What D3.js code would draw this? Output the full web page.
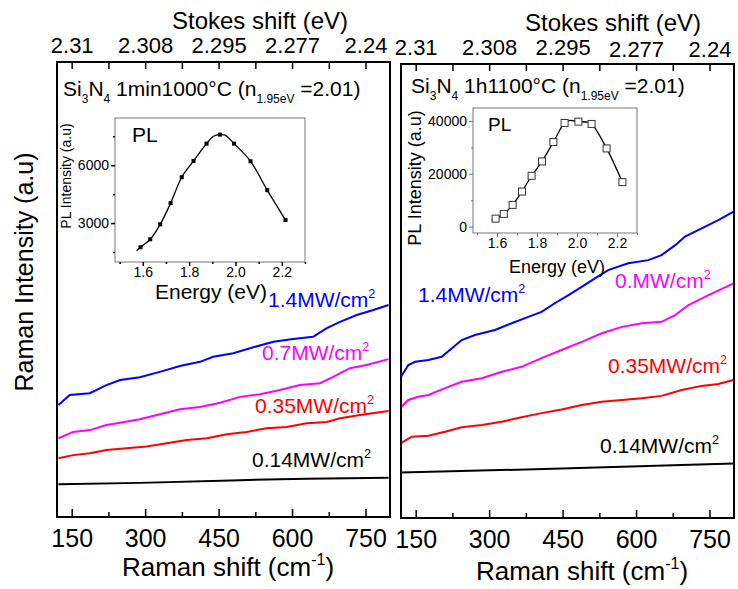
<!DOCTYPE html>
<html>
<head>
    <title>Raman / PL of Si3N4</title>
    <script src="https://cdnjs.cloudflare.com/ajax/libs/d3/7.8.5/d3.min.js" charset="utf-8"></script>
    <style>
        body { margin: 0; background: white; }
        text { font-family: "Liberation Sans", Arial, sans-serif; }
    </style>
</head>
<body>
<div id="graph"></div>
<script>
    // ---- data ----
    var ramanTicks = [150, 300, 450, 600, 750];
    var ramanMinor = [225, 375, 525, 675];
    var stokesLabels = ["2.31", "2.308", "2.295", "2.277", "2.24"];
    var powerLabelsLeft = ["1.4", "0.7", "0.35", "0.14"];
    var powerLabelsRight = ["1.4", "0.", "0.35", "0.14"];
    var seriesColors = ["#0000ff", "#ff00ff", "#ff0000", "#000000"];

    // left panel: Si3N4 1min 1000C  [Raman shift, intensity a.u.]
    var leftBlue = [[123,24.6],[146,26.8],[187,27.2],[221,29.0],[249,30.1],[289,30.7],[330,31.9],[371,33.2],[412,34.1],[439,35.2],[480,36.0],[521,37.3],[562,38.5],[602,39.1],[643,39.6],[671,41.5],[698,42.9],[732,44.4],[766,45.5],[797,46.6]];
    var leftMagenta = [[123,17.3],[153,18.7],[187,19.1],[221,20.2],[249,20.7],[289,21.5],[330,22.6],[371,23.7],[412,24.2],[453,25.1],[494,26.4],[535,27.0],[575,27.9],[616,29.0],[657,29.4],[684,30.8],[718,32.7],[752,33.4],[797,34.7]];
    var leftRed = [[123,12.9],[153,13.6],[187,14.0],[221,14.7],[262,15.1],[303,15.5],[344,16.2],[385,16.9],[426,17.3],[467,18.2],[507,18.7],[548,19.5],[589,19.8],[630,20.6],[671,20.9],[698,21.7],[739,22.4],[797,23.3]];
    var leftBlack = [[123,7.2],[289,7.5],[494,8.1],[630,8.4],[797,8.6]];

    // right panel: Si3N4 1h 1100C
    var rightBlue = [[120,31.1],[135,33.7],[149,34.4],[176,34.8],[203,35.5],[224,37.4],[244,39.2],[271,40.3],[312,41.4],[346,42.9],[380,44.3],[407,45.4],[434,47.3],[462,49.1],[489,50.9],[516,52.8],[543,54.6],[584,56.1],[625,56.8],[652,57.9],[680,60.1],[700,62.0],[734,63.8],[768,65.6],[799,67.5]];
    var rightMagenta = [[120,24.4],[135,26.0],[155,26.7],[176,27.1],[210,28.6],[244,30.0],[285,30.8],[326,32.2],[366,33.3],[407,35.2],[448,37.0],[489,38.8],[530,40.7],[571,42.1],[612,42.9],[652,43.2],[680,44.7],[707,46.9],[748,49.1],[799,51.7]];
    var rightRed = [[120,16.5],[142,17.9],[176,18.1],[210,19.0],[244,20.0],[285,20.5],[326,21.2],[366,22.2],[407,23.1],[448,23.9],[489,24.9],[530,25.6],[571,26.0],[612,26.4],[652,26.9],[693,28.2],[734,29.1],[768,29.5],[799,30.4]];
    var rightBlack = [[120,10.0],[448,10.9],[799,12.0]];

    // insets: PL intensity vs energy (eV)
    var leftPLPoints = [[1.590,1744],[1.632,2157],[1.675,2933],[1.720,4034],[1.768,5378],[1.819,6221],[1.875,7120],[1.933,7586],[1.994,7120],[2.065,6205],[2.137,4706],[2.216,3155]];
    var leftPLLine = [[1.573,1568],[1.590,1744],[1.632,2157],[1.675,2933],[1.720,4034],[1.768,5378],[1.819,6221],[1.875,7120],[1.905,7500],[1.933,7586],[1.955,7560],[1.994,7120],[2.065,6205],[2.137,4706],[2.216,3155]];
    var rightPLPoints = [[1.593,3036],[1.634,4820],[1.678,8235],[1.725,13283],[1.773,19240],[1.825,24668],[1.882,32030],[1.938,39240],[2.007,39734],[2.073,38861],[2.148,29602],[2.227,16850]];
    var rightPLLine = [[1.573,2540],[1.593,3036],[1.634,4820],[1.678,8235],[1.725,13283],[1.773,19240],[1.825,24668],[1.882,32030],[1.938,39240],[1.965,40200],[2.007,39734],[2.045,39600],[2.073,38861],[2.148,29602],[2.227,16850]];

    var width = 738, height = 589;
    var svg = d3.select("#graph").append("svg")
            .attr("width", width)
            .attr("height", height);

    function addPower(g, x, y, label, color, size) {
        var t = g.append("text").attr("x", x).attr("y", y)
                .attr("fill", color).attr("font-size", size);
        t.append("tspan").text(label + "MW/cm");
        t.append("tspan").attr("font-size", size * 0.6).attr("dy", -size * 0.45).text("2");
    }

    function drawPanel(p) {
        var g = svg.append("g");
        var x = d3.scaleLinear().domain([120, 800]).range([p.x0, p.x1]);
        var y = d3.scaleLinear().domain([0, 100]).range([p.y1, p.y0]);

        var line = d3.line().x(function (d) { return x(d[0]); }).y(function (d) { return y(d[1]); });
        p.series.forEach(function (s, i) {
            g.append("path").datum(s)
                    .attr("d", line)
                    .attr("fill", "none")
                    .attr("stroke", seriesColors[i])
                    .attr("stroke-width", 2);
        });

        // bottom axis, inward ticks
        var bottom = d3.axisBottom(x).tickValues(ramanTicks).tickSize(-8).tickPadding(12);
        var ga = g.append("g").attr("transform", "translate(0," + p.y1 + ")").call(bottom);
        ga.selectAll("text").attr("font-size", 25).attr("font-family", "Liberation Sans, Arial, sans-serif");
        g.append("g").attr("transform", "translate(0," + p.y1 + ")")
                .call(d3.axisBottom(x).tickValues(ramanMinor).tickSize(-5).tickFormat(""));

        // top axis (Stokes shift), inward ticks
        var top = d3.axisTop(x).tickValues(ramanTicks.concat(ramanMinor)).tickSize(-7).tickPadding(9)
                .tickFormat(function (d) {
                    var k = ramanTicks.indexOf(d);
                    return k < 0 ? "" : stokesLabels[k];
                });
        var gt = g.append("g").attr("transform", "translate(0," + p.y0 + ")").call(top);
        gt.selectAll("text").attr("font-size", 22).attr("font-family", "Liberation Sans, Arial, sans-serif")
                .attr("dy", function (d) {
                    var k = ramanTicks.indexOf(d);
                    return k < 0 ? 0 : p.topDy[k];
                });

        svg.selectAll(".domain").remove();
        svg.selectAll(".tick line").attr("stroke", "#000").attr("stroke-width", 1.5);

        g.append("rect").attr("x", p.x0).attr("y", p.y0)
                .attr("width", p.x1 - p.x0).attr("height", p.y1 - p.y0)
                .attr("fill", "none").attr("stroke", "#000").attr("stroke-width", 2);

        // axis titles
        var xt = g.append("text").attr("x", p.titleX).attr("y", p.titleY)
                .attr("text-anchor", "middle").attr("font-size", 26);
        xt.append("tspan").text("Raman shift (cm");
        xt.append("tspan").attr("font-size", 16).attr("dy", -11).text("-1");
        xt.append("tspan").attr("dy", 11).text(")");

        g.append("text").attr("x", p.stokesX).attr("y", p.stokesY)
                .attr("text-anchor", "middle").attr("font-size", 24).text("Stokes shift (eV)");

        // sample annotation
        var a = g.append("text").attr("x", p.annX).attr("y", p.annY).attr("font-size", 21);
        a.append("tspan").text("Si");
        a.append("tspan").attr("font-size", 12).attr("dy", 7).text("3");
        a.append("tspan").attr("dy", -7).text("N");
        a.append("tspan").attr("font-size", 12).attr("dy", 7).text("4");
        a.append("tspan").attr("dy", -7).text(" " + p.sample + " (n");
        a.append("tspan").attr("font-size", 12).attr("dy", 7).text("1.95eV");
        a.append("tspan").attr("dy", -7).text(" =2.01)");

        p.labels.forEach(function (l, i) {
            addPower(g, l[0], l[1], p.powers[i], seriesColors[i], 21);
        });

        drawInset(p.inset);
    }

    function drawInset(c) {
        var g = svg.append("g");
        var x = d3.scaleLinear().domain([1.48, 2.30]).range([c.x0, c.x1]);
        var y = d3.scaleLinear().domain(c.yDomain).range([c.y1, c.y0]);

        g.append("rect").attr("x", c.x0).attr("y", c.y0)
                .attr("width", c.x1 - c.x0).attr("height", c.y1 - c.y0)
                .attr("fill", "white").attr("stroke", "#777").attr("stroke-width", 1);

        g.append("g").attr("transform", "translate(0," + c.y1 + ")")
                .call(d3.axisBottom(x).tickValues([1.6, 1.8, 2.0, 2.2]).tickSize(4).tickPadding(1).tickFormat(d3.format(".1f")));
        g.append("g").attr("transform", "translate(0," + c.y1 + ")")
                .call(d3.axisBottom(x).tickValues([1.5, 1.7, 1.9, 2.1, 2.3]).tickSize(2).tickFormat(""));
        g.append("g").attr("transform", "translate(" + c.x0 + ",0)")
                .call(d3.axisLeft(y).tickValues(c.yTicks).tickSize(4).tickPadding(2).tickFormat(d3.format("d")));
        g.append("g").attr("transform", "translate(" + c.x0 + ",0)")
                .call(d3.axisLeft(y).tickValues(c.yMinor).tickSize(2).tickFormat(""));
        g.selectAll(".domain").remove();
        g.selectAll(".tick line").attr("stroke", "#777");
        g.selectAll(".tick text").attr("font-size", c.tickSize).attr("fill", "#000")
                .attr("font-family", "Liberation Sans, Arial, sans-serif");

        var line = d3.line().curve(d3.curveCatmullRom)
                .x(function (d) { return x(d[0]); }).y(function (d) { return y(d[1]); });
        g.append("path").datum(c.line).attr("d", line)
                .attr("fill", "none").attr("stroke", "#000").attr("stroke-width", 1.3);

        g.selectAll("rect.m").data(c.points).enter().append("rect")
                .attr("class", "m")
                .attr("x", function (d) { return x(d[0]) - c.mk / 2; })
                .attr("y", function (d) { return y(d[1]) - c.mk / 2; })
                .attr("width", c.mk).attr("height", c.mk)
                .attr("fill", c.open ? "white" : "#000")
                .attr("stroke", c.open ? "#333" : "none")
                .attr("stroke-width", 1);

        g.append("text").attr("x", c.plX).attr("y", c.plY).attr("font-size", c.plSize).text("PL");
        g.append("text").attr("x", c.enX).attr("y", c.enY).attr("text-anchor", "middle")
                .attr("font-size", c.titleSize).text("Energy (eV)");
        g.append("text").attr("transform", "translate(" + c.ylX + "," + c.ylY + ") rotate(-90)")
                .attr("text-anchor", "middle").attr("font-size", c.ylSize).text("PL Intensity (a.u)");
    }

    // main y axis title
    svg.append("text").attr("transform", "translate(33,272) rotate(-90)")
            .attr("text-anchor", "middle").attr("font-size", 25).text("Raman Intensity (a.u)");

    drawPanel({
        x0: 57, x1: 390, y0: 62, y1: 517,
        titleX: 228, titleY: 576, stokesX: 260, stokesY: 29, annX: 63, annY: 96,
        topDy: [0, 0, 0, 0, 0],
        sample: "1min1000°C",
        series: [leftBlue, leftMagenta, leftRed, leftBlack],
        powers: powerLabelsLeft,
        labels: [[268, 307], [262, 360], [255, 413], [252, 467]],
        inset: {
            x0: 115, x1: 305, y0: 118, y1: 262,
            yDomain: [980, 8450], yTicks: [3000, 6000], yMinor: [1500, 4500, 7500],
            points: leftPLPoints, line: leftPLLine, mk: 4, open: false,
            tickSize: 14, titleSize: 21, plSize: 21, ylSize: 14,
            plX: 132, plY: 142, enX: 211, enY: 299, ylX: 71, ylY: 176
        }
    });

    drawPanel({
        x0: 401, x1: 734, y0: 64, y1: 518,
        titleX: 582, titleY: 580, stokesX: 613, stokesY: 31, annX: 411, annY: 93,
        topDy: [0, 0, 0, 2, 2],
        sample: "1h1100°C",
        series: [rightBlue, rightMagenta, rightRed, rightBlack],
        powers: powerLabelsRight,
        labels: [[418, 302], [615, 288], [608, 373], [600, 453]],
        inset: {
            x0: 473, x1: 637, y0: 108, y1: 233,
            yDomain: [-2400, 44900], yTicks: [0, 20000, 40000], yMinor: [10000, 30000],
            points: rightPLPoints, line: rightPLLine, mk: 7, open: true,
            tickSize: 14, titleSize: 18, plSize: 19, ylSize: 18,
            plX: 488, plY: 131, enX: 557, enY: 273, ylX: 421, ylY: 178
        }
    });
</script>
</body>
</html>
